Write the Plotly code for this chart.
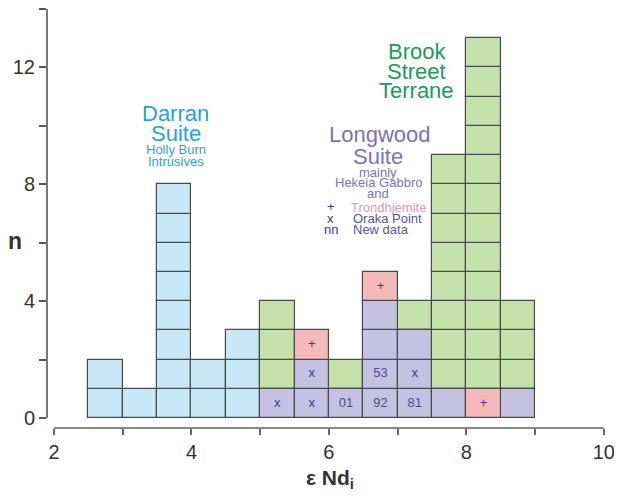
import plotly.graph_objects as go

# ---- data ----
bin_centers = [2.75, 3.25, 3.75, 4.25, 4.75, 5.25, 5.75, 6.25, 6.75, 7.25, 7.75, 8.25, 8.75]
# stacked cells from bottom: D=Darran, B=Brook Street, L=Longwood, T=Trondhjemite
bin_cells = ["DD", "D", "DDDDDDDD", "DD", "DDD", "LBBB", "LLT", "LB", "LLLLT",
             "LLLB", "LBBBBBBBB", "TBBBBBBBBBBBB", "LBBB"]
# labels inside cells (bin centre, stack level from bottom, text)
label_bins = [5.25, 5.75, 5.75, 5.75, 6.25, 6.75, 6.75, 6.75, 7.25, 7.25, 8.25]
label_levels = [0, 0, 1, 2, 0, 0, 1, 4, 0, 1, 0]
label_texts = ["x", "x", "x", "+", "01", "92", "53", "+", "81", "x", "+"]

x_tick_vals = [2, 3, 4, 5, 6, 7, 8, 9, 10]
x_tick_text = ["2", "", "4", "", "6", "", "8", "", "10"]
y_tick_vals = [0, 2, 4, 6, 8, 10, 12, 14]
y_tick_text = ["0", "", "4", "", "8", "", "12", ""]

colors = {"D": "#c8e8f8", "B": "#c5e1aa", "L": "#c4c1e3", "T": "#f6b9b9"}
names = {"D": "Darran Suite", "B": "Brook Street Terrane", "L": "Longwood Suite", "T": "Trondhjemite"}

fig = go.Figure()
for cat in ["D", "B", "L", "T"]:
    xs, bases = [], []
    for xc, stack in zip(bin_centers, bin_cells):
        for lvl, c in enumerate(stack):
            if c == cat:
                xs.append(xc)
                bases.append(lvl)
    fig.add_trace(go.Bar(
        x=xs, y=[1] * len(xs), base=bases, width=0.5, name=names[cat],
        marker=dict(color=colors[cat], line=dict(color="#4a4a4a", width=1.2)),
        showlegend=False, hoverinfo="skip"))

fig.add_trace(go.Scatter(
    x=label_bins, y=[l + 0.5 for l in label_levels], mode="text", text=label_texts,
    textfont=dict(family="Liberation Sans, Arial", size=13,
                  color=["#3a3a8c" if t in ("x", "+") else "#4e4e88" for t in label_texts]),
    showlegend=False, hoverinfo="skip"))

XMIN, XMAX = 1.898, 10.09
YMIN, YMAX = -0.34, 14.0
FONT = "Liberation Sans, Arial"

# page body has an 8px margin, so the figure is sized/offset to compensate
fig.update_layout(
    width=614, height=489,
    margin=dict(l=39, r=12, t=1, b=69),
    plot_bgcolor="white", paper_bgcolor="white",
    barmode="overlay", bargap=0, hovermode=False,
    font=dict(family=FONT, color="#333333"),
    xaxis=dict(range=[XMIN, XMAX], tickvals=x_tick_vals, ticktext=x_tick_text,
               ticks="outside", ticklen=6, tickwidth=1.5, tickcolor="#666",
               showline=False, showgrid=False, zeroline=False,
               tickfont=dict(size=20, color="#333")),
    yaxis=dict(range=[YMIN, YMAX], tickvals=y_tick_vals, ticktext=y_tick_text,
               ticks="outside", ticklen=7, tickwidth=1.5, tickcolor="#555",
               showline=False, showgrid=False, zeroline=False,
               tickfont=dict(size=20, color="#333")),
)

# offset axis lines
fig.add_shape(type="line", xref="x domain", yref="y domain",
              x0=0, x1=0, y0=(0 - YMIN) / (YMAX - YMIN), y1=1,
              line=dict(color="#555", width=1.6))
fig.add_shape(type="line", xref="x domain", yref="y domain",
              x0=(2 - XMIN) / (XMAX - XMIN), x1=(10 - XMIN) / (XMAX - XMIN), y0=0, y1=0,
              line=dict(color="#888", width=2.2))

def ann(text, x, y, size, color, xanchor="center"):
    fig.add_annotation(text=text, x=x, y=y,
                       xref="x", yref="y", showarrow=False, xanchor=xanchor,
                       yanchor="middle", font=dict(family=FONT, size=size, color=color))

blue = "#2c9fd3"
green = "#1e9a5c"
purple = "#7c73b6"
ann("Darran", 3.77, 10.41, 22, blue)
ann("Suite", 3.77, 9.73, 22, blue)
ann("Holly Burn", 3.77, 9.18, 13, blue)
ann("Intrusives", 3.77, 8.77, 13, blue)

ann("Brook", 7.28, 12.53, 22, green)
ann("Street", 7.28, 11.85, 22, green)
ann("Terrane", 7.28, 11.20, 22, green)

ann("Longwood", 6.745, 9.69, 22, purple)
ann("Suite", 6.72, 8.94, 22, purple)
ann("mainly", 6.72, 8.42, 13, purple)
ann("Hekeia Gabbro", 6.72, 8.05, 13, purple)
ann("and", 6.72, 7.67, 13, purple)
ann("Trondhjemite", 6.29, 7.19, 13, "#d99ab6", xanchor="left")
ann("Oraka Point", 6.32, 6.82, 13, "#56569a", xanchor="left")
ann("New data", 6.32, 6.44, 13, "#56569a", xanchor="left")
ann("+", 6.03, 7.24, 13, "#3a3a8c")
ann("x", 6.03, 6.84, 13, "#3a3a8c")
ann("nn", 6.03, 6.44, 13, "#3a3a8c")

# axis titles
fig.add_annotation(text="<b>ε Nd<sub>i</sub></b>", x=6.02, y=-0.122, xref="x", yref="paper",
                   xanchor="center", yanchor="middle",
                   showarrow=False, font=dict(family=FONT, size=21, color="#333"))
fig.add_annotation(text="<b>n</b>", x=-0.057, y=6.06, xref="paper", yref="y",
                   xanchor="center", yanchor="middle",
                   showarrow=False, font=dict(family=FONT, size=23, color="#333"))

fig.write_html("out.html")
